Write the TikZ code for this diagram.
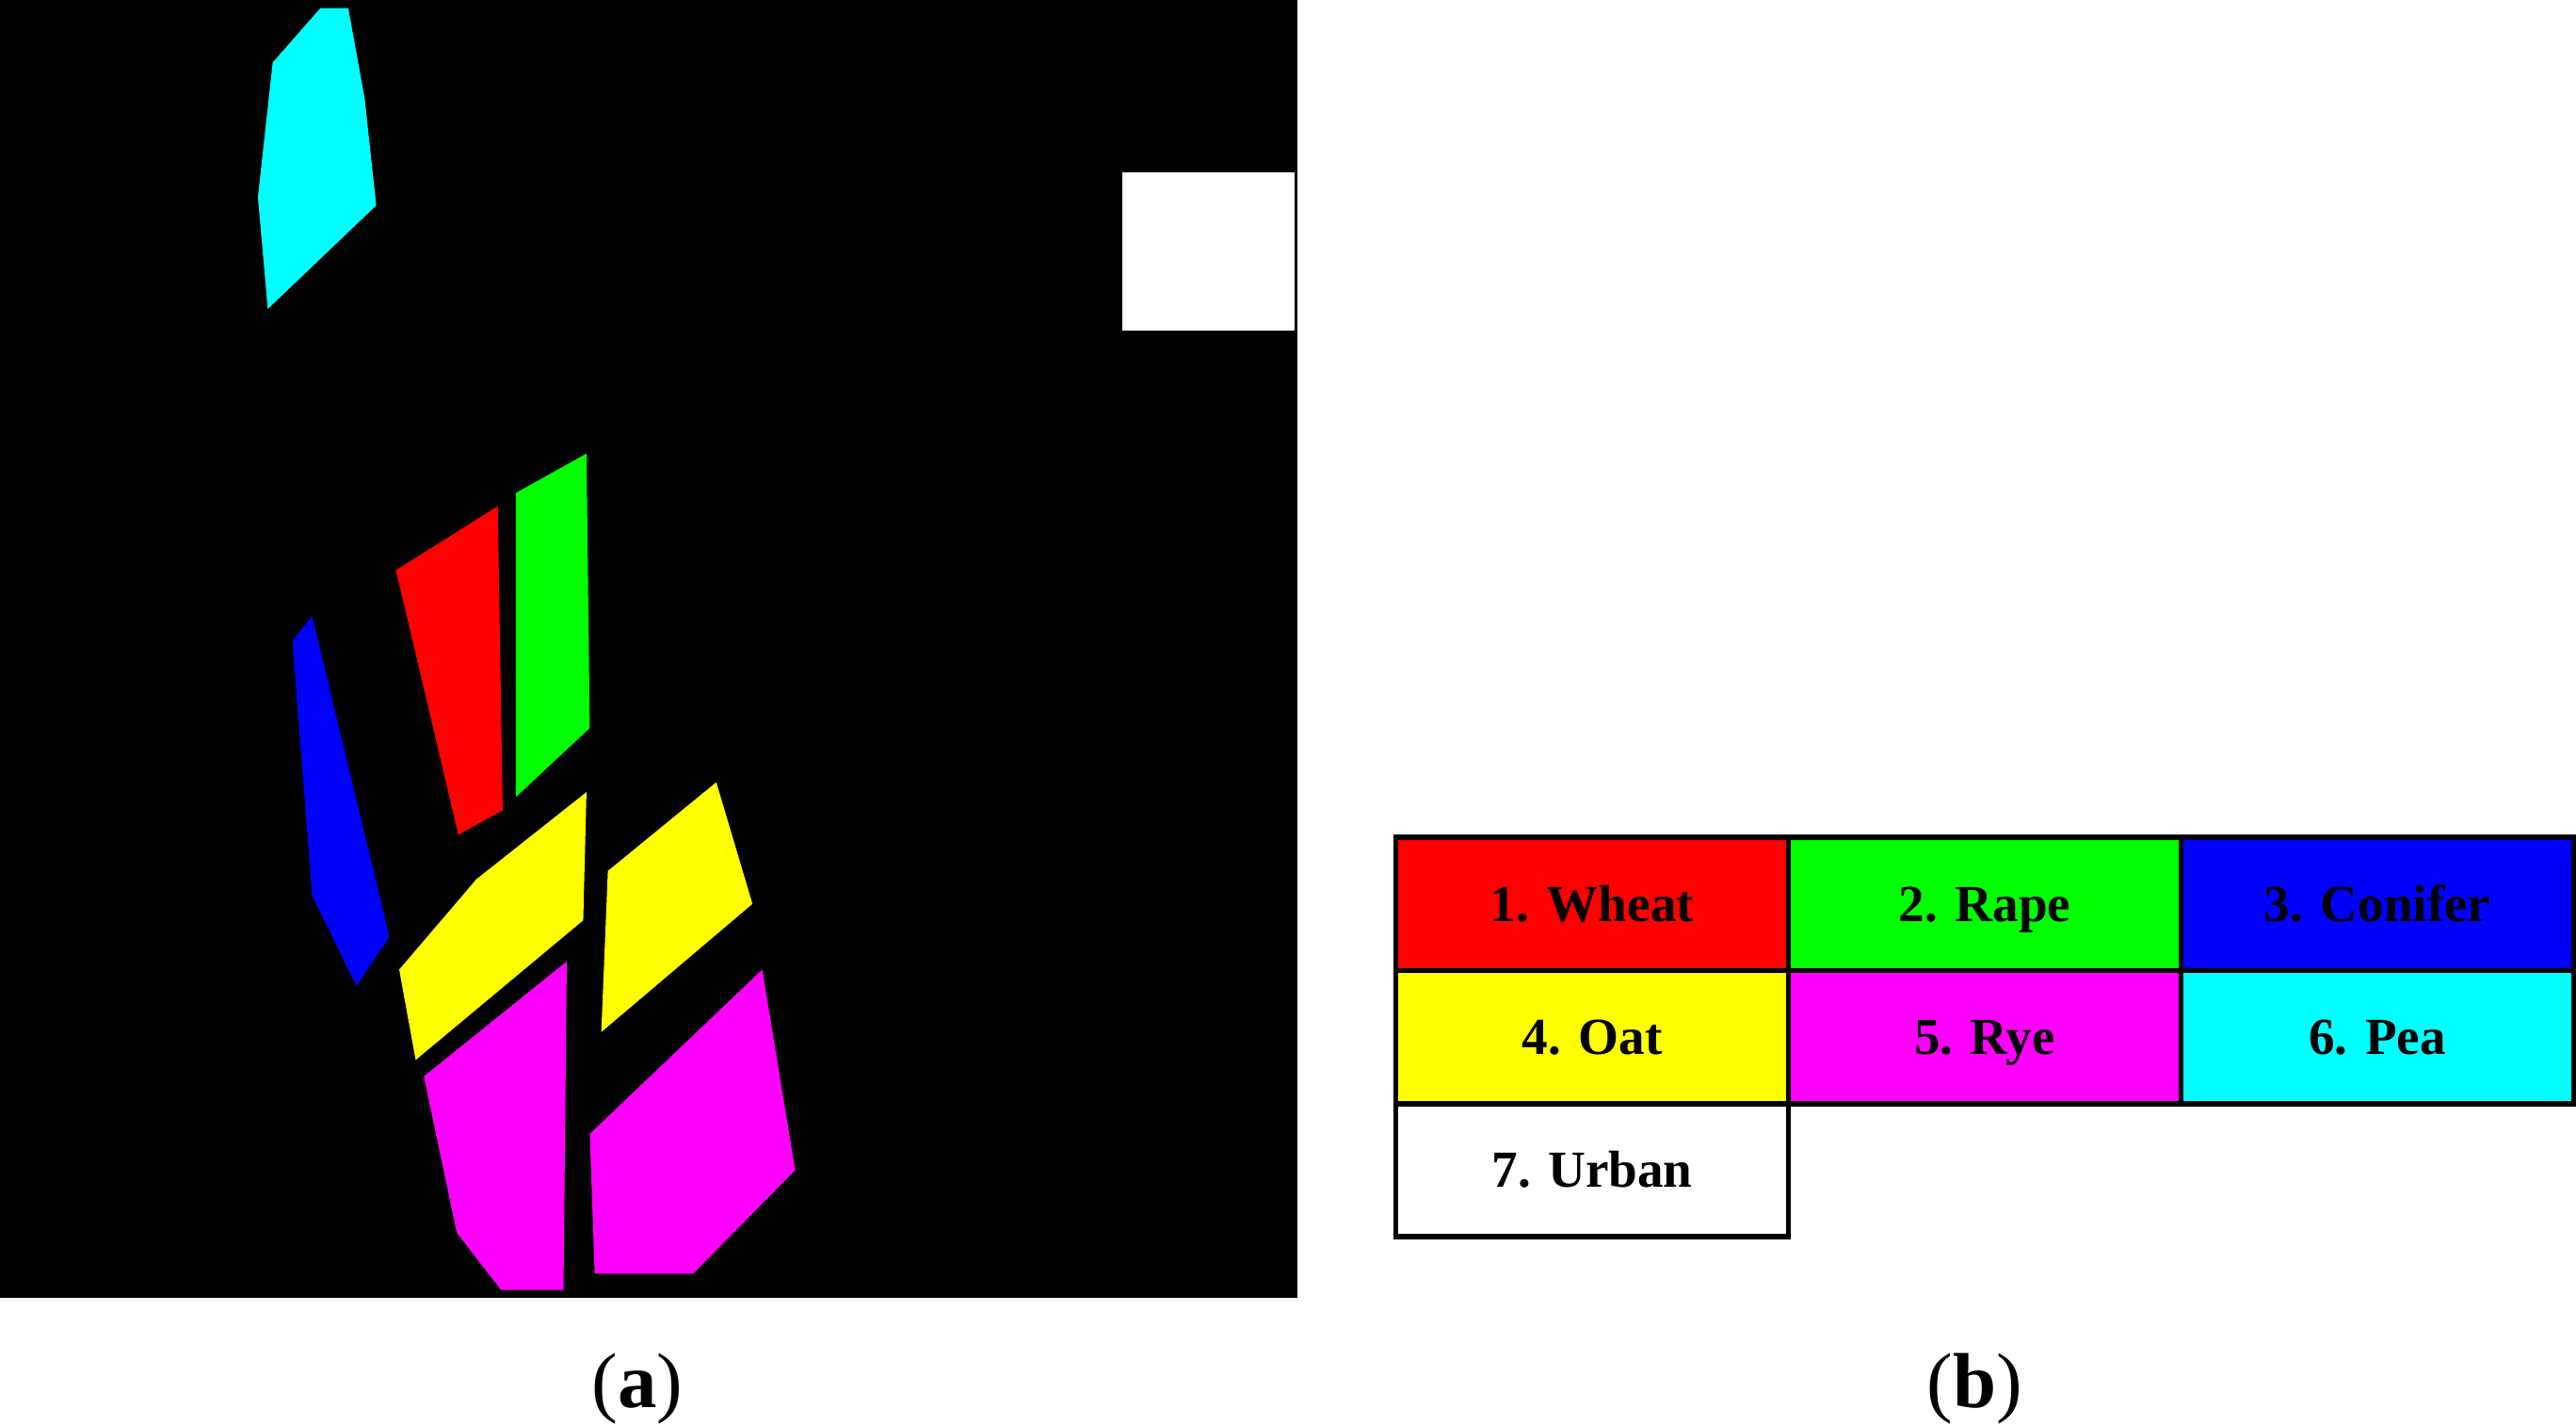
\documentclass[tikz,border=0pt]{standalone}
\usepackage{fontspec}
\setmainfont{Liberation Serif}
\definecolor{cy}{RGB}{0,255,255}
\definecolor{mg}{RGB}{255,0,255}
\definecolor{yl}{RGB}{255,255,0}
\definecolor{gr}{RGB}{0,255,0}
\definecolor{rd}{RGB}{255,0,0}
\definecolor{bl}{RGB}{0,0,255}
\begin{document}
\begin{tikzpicture}[x=0.01cm,y=-0.01cm,
  cell/.style={draw=black,line width=0.9pt,minimum width=2.39cm,minimum height=0.81cm,anchor=north west,inner sep=0,text height=1.6ex,text depth=0.3ex,font=\fontsize{9}{11}\selectfont\bfseries},
  captext/.style={font=\fontsize{13.5}{16}\selectfont}]
\useasboundingbox (0,0) rectangle (1568,867);
\fill[black] (0,0) rectangle (790,790);
\fill[cy] (195,5)--(212,5)--(222,60)--(229,125)--(163,188)--(157,120)--(166,38)--cycle;
\fill[white] (683,105) rectangle (788,201);
\fill[rd] (241,347)--(303,308)--(306,493)--(279,508)--cycle;
\fill[gr] (314,300)--(357,276)--(359,443)--(314,485)--cycle;
\fill[bl] (178,390)--(190,375)--(237,570)--(217,600)--(190,545)--cycle;
\fill[yl] (243,590)--(290,535)--(357,482)--(355,560)--(253,645)--cycle;
\fill[yl] (370,530)--(436,476)--(458,550)--(366,628)--cycle;
\fill[mg] (258,655)--(345,585)--(343,785)--(305,785)--(278,750)--cycle;
\fill[mg] (359,690)--(464,590)--(484,712)--(422,775)--(362,775)--cycle;
\node[cell,fill=rd] (c1) at (848,508) {1. Wheat};
\node[cell,fill=gr] (c2) at (1087,508) {2. Rape};
\node[cell,fill=bl] (c3) at (1326,508) {3. Conifer};
\node[cell,fill=yl] (c4) at (848,589) {4. Oat};
\node[cell,fill=mg] (c5) at (1087,589) {5. Rye};
\node[cell,fill=cy] (c6) at (1326,589) {6. Pea};
\node[cell,fill=white] (c7) at (848,670) {7. Urban};
\node[captext] (a) at (388,845) {(\textbf{a})};
\node[captext] (b) at (1202,845) {(\textbf{b})};
\end{tikzpicture}
\end{document}
